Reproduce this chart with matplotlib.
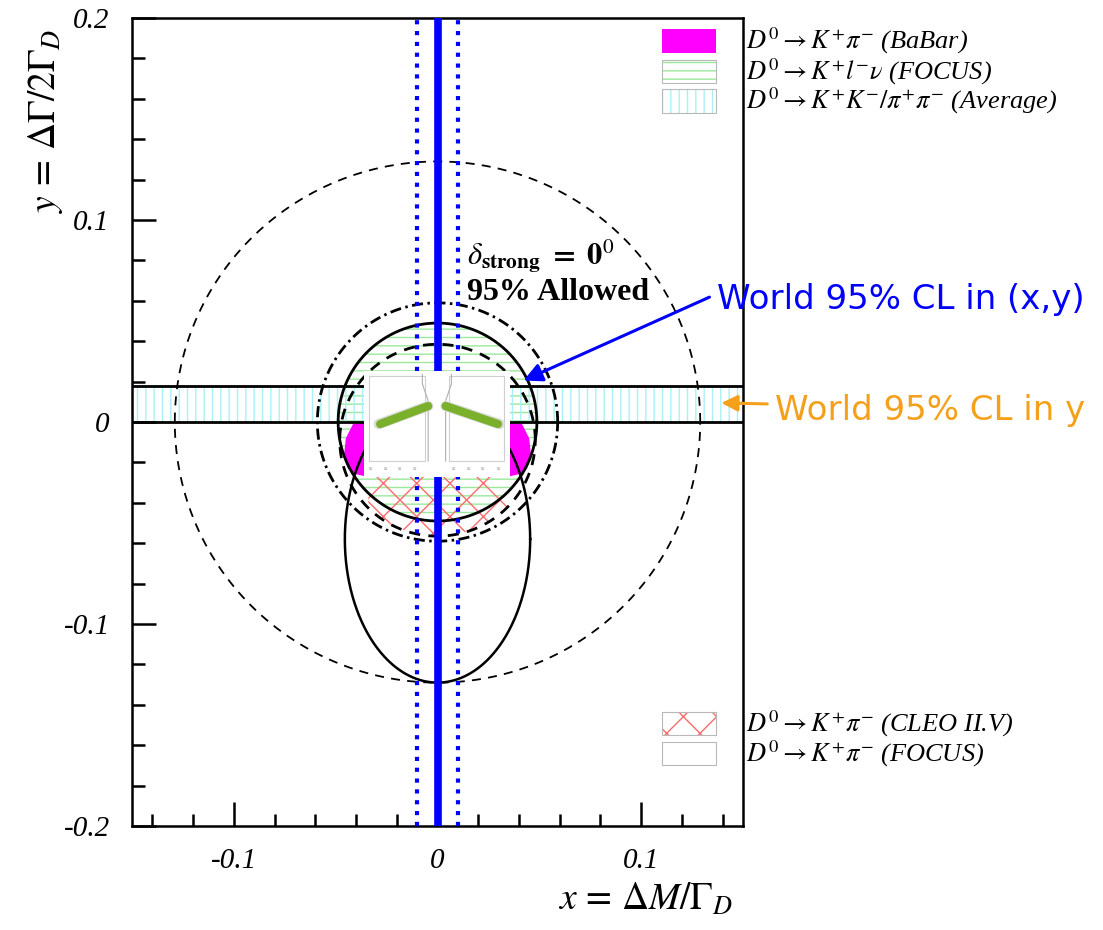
import numpy as np
import matplotlib
matplotlib.use('Agg')
import matplotlib.pyplot as plt
from matplotlib.patches import Rectangle
from matplotlib.ticker import MultipleLocator

plt.rcParams['mathtext.fontset'] = 'stix'
plt.rcParams['font.family'] = ['Liberation Serif', 'DejaVu Serif']
plt.rcParams['hatch.linewidth'] = 1.0

# axes
x_range = [-0.15, 0.15]
y_range = [-0.2, 0.2]
x_major = [-0.1, 0.0, 0.1]
x_tick_labels = ['-0.1', '0', '0.1']
y_major = [-0.2, -0.1, 0.0, 0.1, 0.2]
y_tick_labels = ['-0.2', '-0.1', '0', '0.1', '0.2']

# world average y band (KK / pipi)
avg_y_band = [0.0, 0.018]
# world 95% CL in (x,y): central value and half width in x
world_x = 0.0
world_x_half = 0.01

# contours: (centre x, centre y, half width, half height)
big_dashed = (0.0, 0.0, 0.129, 0.129)
dotdash_circle = (0.0, 0.0, 0.059, 0.059)
focus_klnu = (0.0, 0.0, 0.0488, 0.049)
cleo_dashed = (0.0, -0.009, 0.048, 0.0475)
focus_kpi = (0.0, -0.058, 0.0455, 0.071)
cleo_xmax = 0.034
cleo_top = -0.02

# BaBar left lobe (right lobe is the mirror)
babar_x = [-0.030, -0.0415, -0.0450, -0.0460, -0.0440, -0.0405, -0.035, -0.030]
babar_y = [0.0, -0.001, -0.008, -0.017, -0.023, -0.0257, -0.027, -0.027]

legend_top = [r'$D^0\rightarrow K^{+}\pi^{-}$ (BaBar)',
              r'$D^0\rightarrow K^{+}l^{-}\nu$ (FOCUS)',
              r'$D^0\rightarrow K^{+}K^{-}/\pi^{+}\pi^{-}$ (Average)']
legend_bottom = [r'$D^0\rightarrow K^{+}\pi^{-}$ (CLEO II.V)',
                 r'$D^0\rightarrow K^{+}\pi^{-}$ (FOCUS)']

magenta = '#ff00ff'
green = '#9be89b'
cyan = '#a8f0f4'
red = '#ff6a6a'
orange = '#f5a01a'


def ellipse_xy(c, n=500):
    t = np.linspace(0, 2 * np.pi, n)
    return c[0] + c[2] * np.cos(t), c[1] + c[3] * np.sin(t)


fig = plt.figure(figsize=(11.03, 9.30), dpi=100)
ax = fig.add_axes([0.1197, 0.1118, 0.5539, 0.8688])
ax.set_xlim(x_range)
ax.set_ylim(y_range)

# filled / hatched regions
ax.fill(*ellipse_xy(focus_klnu), facecolor='none', edgecolor=green, hatch='--', lw=0, zorder=1)
ax.fill_between(x_range, avg_y_band[0], avg_y_band[1], facecolor='none',
                edgecolor=cyan, hatch='||', lw=0, zorder=1)
for s in [1, -1]:
    ax.fill(s * np.array(babar_x), babar_y, color=magenta, lw=0, zorder=2)

cx = np.linspace(-cleo_xmax, cleo_xmax, 200)
cy = cleo_dashed[1] - cleo_dashed[3] * np.sqrt(1 - (cx / cleo_dashed[2]) ** 2)
ax.fill(np.r_[cx, cx[::-1][[0, -1]]], np.r_[cy, [cleo_top, cleo_top]],
        facecolor='none', edgecolor=red, hatch='x', lw=0, zorder=2)

# contour lines
ax.plot(*ellipse_xy(big_dashed), color='black', lw=1.3, ls=(0, (5, 4)), zorder=3)
ax.plot(*ellipse_xy(dotdash_circle), color='black', lw=2, ls=(0, (4, 1.6, 0.9, 1.6)), zorder=3)
ax.plot(*ellipse_xy(focus_klnu), color='black', lw=2, zorder=3)
ax.plot(*ellipse_xy(cleo_dashed), color='black', lw=2, ls=(0, (4, 3)), zorder=3)
ax.plot(*ellipse_xy(focus_kpi), color='black', lw=1.8, zorder=3)
for yb in avg_y_band:
    ax.axhline(yb, color='black', lw=2, zorder=4)

# world average in x
ax.axvline(world_x, color='blue', lw=5.5, zorder=5)
for s in [1, -1]:
    ax.axvline(world_x + s * world_x_half, color='blue', lw=3, ls=(0, (1, 1.6)), zorder=5)

# small inset picture
ins = ax.inset_axes([-0.036, -0.0272, 0.0714, 0.0524], transform=ax.transData, zorder=6)
ins.set_xlim(0, 1)
ins.set_ylim(0, 1)
ins.set_xticks([])
ins.set_yticks([])
for sp in ins.spines.values():
    sp.set_visible(False)
ins.add_patch(Rectangle((0.03, 0.15), 0.39, 0.8, fill=False, ec='#cfcfcf', lw=0.8))
ins.add_patch(Rectangle((0.58, 0.15), 0.38, 0.8, fill=False, ec='#cfcfcf', lw=0.8))
ins.plot([0.40, 0.40, 0.44, 0.44], [0.97, 0.88, 0.72, 0.15], color='#b0b0b0', lw=0.8)
ins.plot([0.60, 0.60, 0.56, 0.56], [0.97, 0.88, 0.72, 0.15], color='#b0b0b0', lw=0.8)
ins.plot([0.10, 0.44], [0.50, 0.67], color='#dcdcdc', lw=7.5, solid_capstyle='round')
ins.plot([0.56, 0.93], [0.67, 0.50], color='#dcdcdc', lw=7.5, solid_capstyle='round')
ins.plot([0.11, 0.44], [0.50, 0.67], color='#7bb02d', lw=6, solid_capstyle='round')
ins.plot([0.56, 0.92], [0.67, 0.50], color='#7bb02d', lw=6, solid_capstyle='round')
for xt in [0.05, 0.15, 0.25, 0.35, 0.62, 0.72, 0.82, 0.93]:
    ins.text(xt, 0.08, '0.2', fontsize=2.5, color='#777777', ha='center', va='center')

# ticks
ax.set_xticks(x_major)
ax.set_xticklabels(x_tick_labels, fontstyle='italic')
ax.set_yticks(y_major)
ax.set_yticklabels(y_tick_labels, fontstyle='italic')
ax.xaxis.set_minor_locator(MultipleLocator(0.02))
ax.yaxis.set_minor_locator(MultipleLocator(0.02))
ax.tick_params(which='major', direction='in', length=17, width=1.8, top=False, right=False,
               labelsize=21, pad=16)
ax.tick_params(which='minor', direction='in', length=9, width=1.8, top=False, right=False)
for sp in ax.spines.values():
    sp.set_linewidth(1.8)

fig.text(0.041, 0.870, r'$y\,=\,\Delta\Gamma/2\Gamma_D$', rotation=90, fontsize=27,
         ha='center', va='center')
fig.text(0.585, 0.032, r'$x\,=\,\Delta M/\Gamma_D$', fontsize=27, ha='center', va='center')

# legends (boxes inside the frame, labels outside)
top_colors = [(magenta, None), ('white', green), ('white', cyan)]
top_hatch = [None, '--', '||']
top_y = [0.9715, 0.9335, 0.8975]
for (fc, hc), h, yy, lab in zip(top_colors, top_hatch, top_y, legend_top):
    ax.add_patch(Rectangle((0.868, yy - 0.0145), 0.088, 0.029, transform=ax.transAxes,
                           facecolor=fc, edgecolor=hc if hc else fc, hatch=h, lw=0, zorder=7))
    if hc:
        ax.add_patch(Rectangle((0.868, yy - 0.0145), 0.088, 0.029, transform=ax.transAxes,
                               fill=False, edgecolor='#b8b8b8', lw=0.8, zorder=7))
    ax.text(1.005, yy, lab, transform=ax.transAxes, fontsize=19, fontstyle='italic',
            va='center', ha='left', clip_on=False)

bot_y = [0.127, 0.0895]
bot_hatch = ['x', None]
for yy, h, lab in zip(bot_y, bot_hatch, legend_bottom):
    ax.add_patch(Rectangle((0.868, yy - 0.0145), 0.088, 0.029, transform=ax.transAxes,
                           facecolor='white', edgecolor=red if h else 'white', hatch=h, lw=0, zorder=7))
    ax.add_patch(Rectangle((0.868, yy - 0.0145), 0.088, 0.029, transform=ax.transAxes,
                           fill=False, edgecolor='#b8b8b8', lw=0.8, zorder=7))
    ax.text(1.005, yy, lab, transform=ax.transAxes, fontsize=19, fontstyle='italic',
            va='center', ha='left', clip_on=False)

# annotations
ax.text(0.0146, 0.0777, r'$\delta_{\mathbf{strong}}\ \mathbf{=\ 0}^{0}$', fontsize=22, zorder=8)
ax.text(0.0146, 0.0605, '95% Allowed', fontsize=23, fontweight='bold', zorder=8)

ax.annotate('', xy=(0.041, 0.020), xycoords='data', xytext=(712 / 1103, 1 - 296 / 930),
            textcoords='figure fraction',
            arrowprops=dict(arrowstyle='-|>', color='blue', lw=2.2, mutation_scale=28))
fig.text(0.9837, 1 - 300 / 930, 'World 95% CL in (x,y)', color='blue', fontsize=24.5,
         family='DejaVu Sans', ha='right', va='center')
ax.annotate('', xy=(0.138, 0.0095), xycoords='data', xytext=(770 / 1103, 1 - 404 / 930),
            textcoords='figure fraction',
            arrowprops=dict(arrowstyle='-|>', color=orange, lw=2.2, mutation_scale=24))
fig.text(0.9837, 1 - 410 / 930, 'World 95% CL in y', color=orange, fontsize=24.5,
         family='DejaVu Sans', ha='right', va='center')

fig.savefig('out.png', dpi=100)
